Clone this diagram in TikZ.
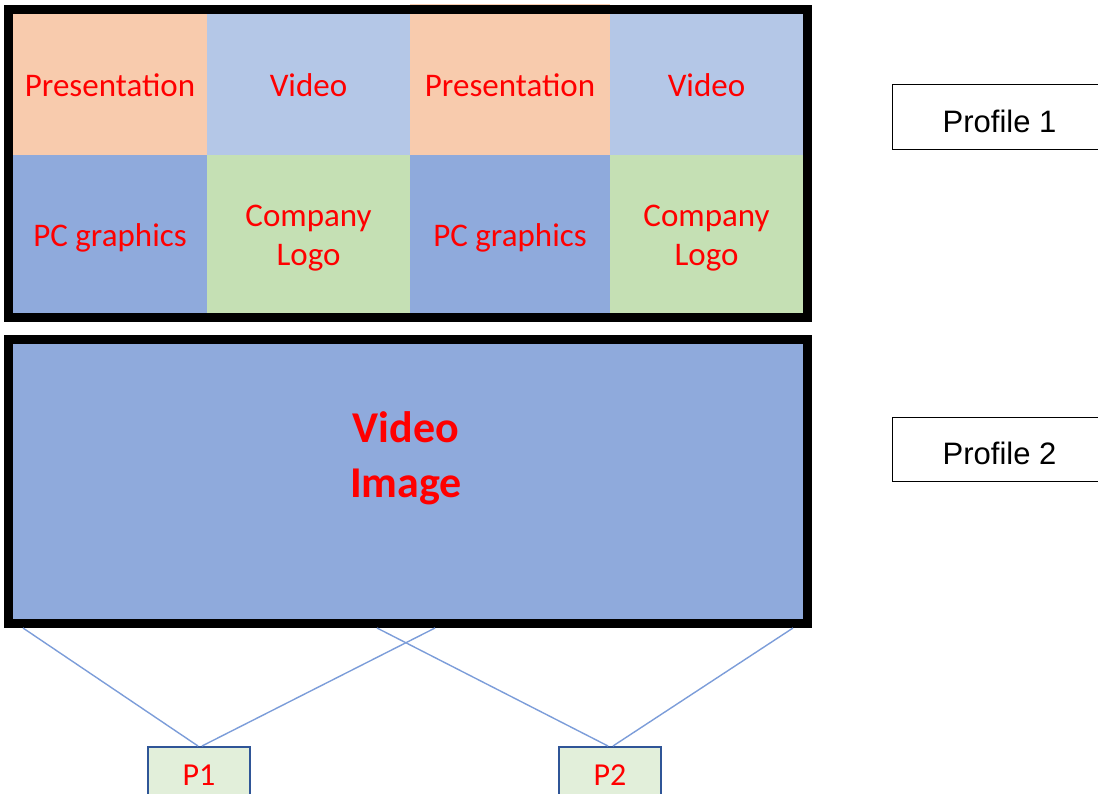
\documentclass[tikz,border=0pt]{standalone}
\usepackage{fontspec}
\setmainfont{Carlito}
\newfontfamily\arialf{Liberation Sans}
\usetikzlibrary{calc}
\definecolor{cOrange}{HTML}{F8CBAD}
\definecolor{cLBlue}{HTML}{B4C7E7}
\definecolor{cBlue}{HTML}{8FAADC}
\definecolor{cGreen}{HTML}{C5E0B4}
\definecolor{cPfill}{HTML}{E2EFDA}
\definecolor{cPdraw}{HTML}{2F5597}
\definecolor{cLine}{HTML}{7C9DD9}
\begin{document}
\begin{tikzpicture}[x=1pt,y=-1pt,
  ctext/.style={text=red, font=\fontsize{33}{39}\selectfont, align=center, inner sep=0pt},
  cell/.style={anchor=north west, inner sep=0pt, outer sep=0pt, minimum height=141pt},
  cellb/.style={cell, minimum height=158pt},
  frame/.style={draw=black, line width=9pt, inner sep=0pt, outer sep=0pt, anchor=north west},
  profile/.style={draw=black, line width=1pt, anchor=north west, inner sep=0pt,
    minimum width=214pt},
  ptext/.style={font=\arialf\fontsize{31}{36}\selectfont, inner sep=0pt},
  pbox/.style={draw=cPdraw, line width=2pt, fill=cPfill, anchor=north west, inner sep=0pt,
    minimum width=102pt, minimum height=56pt, text=red, font=\fontsize{32}{40}\selectfont},
  conn/.style={draw=cLine, line width=1.4pt}]
\useasboundingbox (0,0) rectangle (1098,794);
% top wall
\fill[cOrange] (410,4) rectangle (610,14);
\node[cell, fill=cOrange, minimum width=194pt, label={[ctext,yshift=-1pt]center:Presentation}] (c11) at (13,14) {};
\node[cell, fill=cLBlue, minimum width=203pt, label={[ctext,yshift=-1pt]center:Video}] (c12) at (207,14) {};
\node[cell, fill=cOrange, minimum width=200pt, label={[ctext,yshift=-1pt]center:Presentation}] (c13) at (410,14) {};
\node[cell, fill=cLBlue, minimum width=193pt, label={[ctext,yshift=-1pt]center:Video}] (c14) at (610,14) {};
\node[cellb, fill=cBlue, minimum width=194pt, label={[ctext,yshift=-4pt]center:PC graphics}] (c21) at (13,155) {};
\node[cellb, fill=cGreen, minimum width=203pt, label={[ctext,yshift=-4pt]center:{Company\\Logo}}] (c22) at (207,155) {};
\node[cellb, fill=cBlue, minimum width=200pt, label={[ctext,yshift=-4pt]center:PC graphics}] (c23) at (410,155) {};
\node[cellb, fill=cGreen, minimum width=193pt, label={[ctext,yshift=-4pt]center:{Company\\Logo}}] (c24) at (610,155) {};
\node[frame, minimum width=799pt, minimum height=308pt] (f1) at (8.5,9.5) {};
% bottom wall
\node[frame, fill=cBlue, minimum width=799pt, minimum height=284pt] (v) at (8.5,339.5) {};
\node[text=red, align=center, font=\bfseries\fontsize{44}{55}\selectfont] (vt) at (406,458) {Video\\Image};
% profiles
\node[profile, minimum height=65pt, label={[ptext,yshift=-4pt]center:Profile 1}] (pr1) at (892,84) {};
\node[profile, minimum height=64pt, label={[ptext,yshift=-4pt]center:Profile 2}] (pr2) at (892,417) {};
% processors
\node[pbox] (p1) at (147,746) {P1};
\node[pbox] (p2) at (558,746) {P2};
% connectors
\draw[conn] ([shift={(14.5pt,-4.5pt)}]v.south west) -- ([xshift=-1pt]p1.north);
\draw[conn] ([shift={(426.5pt,-4.5pt)}]v.south west) -- ([xshift=3pt]p1.north);
\draw[conn] ([shift={(368.5pt,-4.5pt)}]v.south west) -- ([xshift=-2pt]p2.north);
\draw[conn] ([shift={(784.5pt,-4.5pt)}]v.south west) -- ([xshift=3pt]p2.north);
\end{tikzpicture}
\end{document}
